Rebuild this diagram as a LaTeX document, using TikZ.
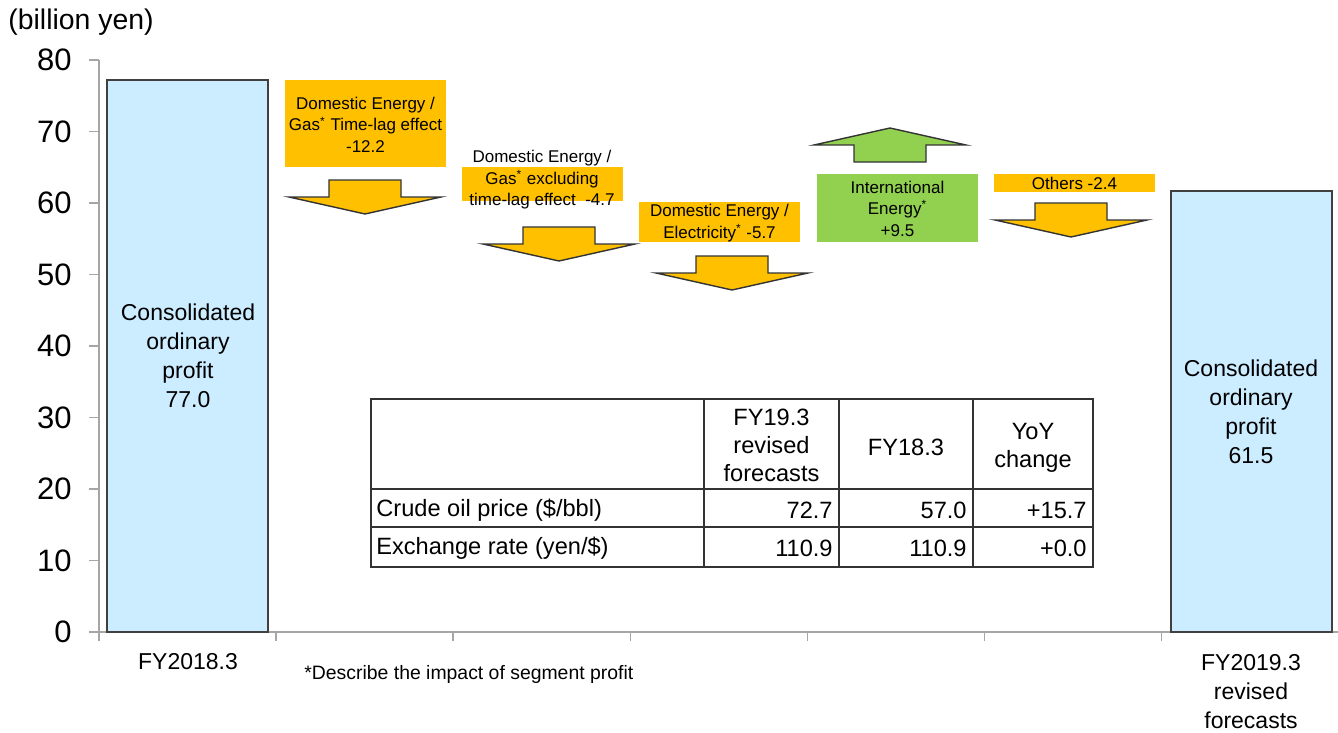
\documentclass[tikz,border=0pt]{standalone}
\usepackage{fontspec}
\setmainfont{Liberation Sans}

\definecolor{barblue}{HTML}{CCECFF}
\definecolor{segorange}{HTML}{FFC000}
\definecolor{seggreen}{HTML}{92D050}
\definecolor{axisgray}{HTML}{A6A6A6}

\tikzset{
  profitbar/.style={draw=black!75, line width=0.75pt, fill=barblue},
  bartext/.style={align=center, inner sep=0pt, font=\fontsize{11.5}{14.5}\selectfont},
  segbox/.style={inner sep=0pt, minimum width=80.5pt},
  segtext/.style={align=center, inner sep=0pt, font=\fontsize{8.5}{10.75}\selectfont},
  blockarrow/.style={draw=black!80, line width=0.7pt, line join=miter},
  axisline/.style={draw=axisgray, line width=0.75pt},
  ticklabel/.style={inner sep=0pt, font=\fontsize{15.5}{18}\selectfont},
  tabline/.style={draw=black!80, line width=0.6pt},
  tabtext/.style={inner sep=0pt, align=center, font=\fontsize{11.8}{14}\selectfont}
}

% down and up block arrows: fill colour, centre x, top (or bottom) y
\newcommand{\dropblock}[3]{%
  \draw[blockarrow, fill=#1] (#2,#3) ++(-36,0) -- ++(72,0) -- ++(0,17) -- ++(40,0)
    -- ++(-76,17) -- ++(-76,-17) -- ++(40,0) -- cycle;}
\newcommand{\riseblock}[3]{%
  \draw[blockarrow, fill=#1] (#2,#3) ++(-36,0) -- ++(72,0) -- ++(0,-17) -- ++(40,0)
    -- ++(-76,-17) -- ++(-76,17) -- ++(40,0) -- cycle;}

\begin{document}
\begin{tikzpicture}[x=0.5pt, y=-0.5pt]
\useasboundingbox (0,0) rectangle (1338,733);

% axes
\node[anchor=west, inner sep=0pt, font=\fontsize{14.2}{17}\selectfont] (unit) at (8,22) {(billion yen)};
\draw[axisline] (99,60) -- (99,632) -- (1338,632);
\foreach \v in {0,10,...,80} {
  \draw[axisline] (89,{632-7.15*\v}) -- (99,{632-7.15*\v});
  \node[ticklabel, anchor=east] (y\v) at (72,{632-7.15*\v}) {\v};
}
\foreach \k in {0,...,7}
  \draw[axisline] ({99+177.1*\k},632) -- ++(0,9);

% bars
\draw[profitbar] (107,80) rectangle (268,632);
\draw[profitbar] (1171,191) rectangle (1332,632);
\node[bartext] (start) at (188,356) {Consolidated\\ordinary\\profit\\77.0};
\node[bartext] (finish) at (1251,412) {Consolidated\\ordinary\\profit\\61.5};
\node[bartext] (fy18) at (188,662) {FY2018.3};
\node[bartext] (fy19) at (1251,692) {FY2019.3\\revised\\forecasts};

% segments
\node[segbox, fill=segorange, minimum height=43.5pt] (lagbox) at (365.5,123.5) {};
\node[segtext] (lag) at (365.5,124.5) {Domestic Energy /\\Gas\textsuperscript{*} Time-lag effect\\-12.2};
\dropblock{segorange}{365}{180}

\node[segbox, fill=segorange, minimum height=17pt] (gasbox) at (542.5,184) {};
\node[segtext] (gas) at (542,180) {Domestic Energy /\\Gas\textsuperscript{*} excluding\\time-lag effect\ \ -4.7};
\dropblock{segorange}{559}{227}

\node[segbox, fill=segorange, minimum height=20pt] (elecbox) at (719.5,222) {};
\node[segtext] (elec) at (719.5,223) {Domestic Energy /\\Electricity\textsuperscript{*} -5.7};
\dropblock{segorange}{732}{256}

\riseblock{seggreen}{890}{162}
\node[segbox, fill=seggreen, minimum height=34pt] (intlbox) at (897.5,208) {};
\node[segtext] (intl) at (897.5,208.5) {International\\Energy\textsuperscript{*}\\+9.5};

\node[segbox, fill=segorange, minimum height=9pt] (othbox) at (1074.5,183) {};
\node[segtext] (oth) at (1074.5,183) {Others -2.4};
\dropblock{segorange}{1071}{203}

% table
\draw[tabline] (371,399) rectangle (1093,567);
\draw[tabline] (371,489) -- (1093,489);
\draw[tabline] (371,527) -- (1093,527);
\foreach \c in {704,839,973}
  \draw[tabline] (\c,399) -- (\c,567);
\node[tabtext] (hfc) at (771.5,445) {FY19.3\\revised\\forecasts};
\node[tabtext] (hprev) at (906,447) {FY18.3};
\node[tabtext] (hyoy) at (1033,447.5) {YoY\\change};
\node[tabtext, anchor=west] (oil) at (376,510) {Crude oil price (\$/bbl)};
\node[tabtext, anchor=west] (fx) at (376,548) {Exchange rate (yen/\$)};
\node[tabtext, anchor=east] (oilfc) at (833,510) {72.7};
\node[tabtext, anchor=east] (oilprev) at (967,510) {57.0};
\node[tabtext, anchor=east] (oilyoy) at (1087,510) {+15.7};
\node[tabtext, anchor=east] (fxfc) at (833,548) {110.9};
\node[tabtext, anchor=east] (fxprev) at (967,548) {110.9};
\node[tabtext, anchor=east] (fxyoy) at (1087,548) {+0.0};

% footnote
\node[anchor=west, inner sep=0pt, font=\fontsize{9.7}{11}\selectfont] (note) at (304,674) {*Describe the impact of segment profit};
\end{tikzpicture}
\end{document}
